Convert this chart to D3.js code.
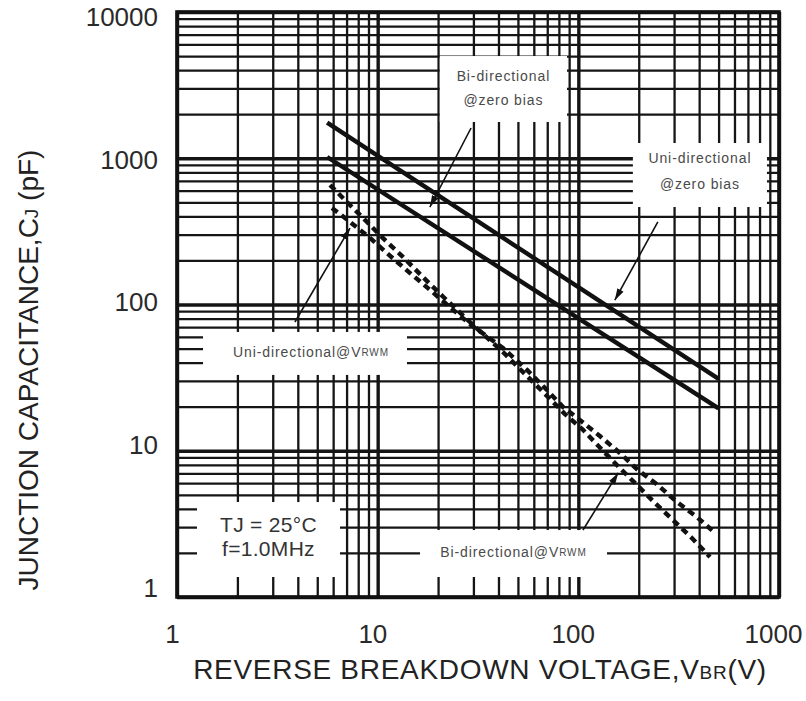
<!DOCTYPE html>
<html><head><meta charset="utf-8">
<script src="https://cdn.jsdelivr.net/npm/d3@7"></script>
<style>body{margin:0;background:#fff} text{font-family:"Liberation Sans",Arial,sans-serif}</style>
</head><body><svg id="c" width="806" height="701"></svg>
<script>
// ---- data ----
const xTicks=[1,10,100,1000];
const xTickLabels=["1","10","100","1000"];
const yTicks=[1,10,100,1000,10000];
const yTickLabels=["1","10","100","1000","10000"];

const uniZeroV=[5.6,500];
const uniZeroC=[1750,31];
const biZeroV=[5.6,500];
const biZeroC=[1020,19.5];

const biVrwmV=[5.79,7.11,8.85,10.6,13.4,16.8,21.2,28.8,42.1,55.5,69.8,85.8,105.5,133,161,196,241,296,368,453];
const biVrwmC=[656,494,367,285,211,154,113,75.9,47.3,32.4,23.7,17.8,13.9,9.96,7.62,5.83,4.39,3.36,2.53,1.88];
const uniVrwmV=[5.92,7.28,9.16,11.1,14.5,18.2,22.9,28.8,42.1,55.5,69.8,83.9,102,128,161,198,249,310,390,480];
const uniVrwmC=[457,367,285,225,164,126,96.1,73.6,50.4,35.7,26.0,19.9,16.2,12.6,9.66,7.38,5.83,4.46,3.52,2.74];

// annotations (data coordinates)
const noteBoxes=[
  {v:[20.4,87.8], c:[5000,1770]},
  {v:[187,871], c:[1271,464]},
  {v:[1.348,14.0], c:[64.9,33]},
  {v:[1.258,6.49], c:[4.46,1.37]},
  {v:[16.25,139], c:[2.87,1.37]}
];
const arrowFromV=[29.2,249,3.87,105.5];
const arrowFromC=[1610,367,75.9,2.87];
const arrowToV=[18.2,152,7.28,158];
const arrowToC=[464,107,333,7.05];

// ---- drawing ----
const W=806,H=701;
const svg=d3.select("#c");
svg.append("rect").attr("width",W).attr("height",H).attr("fill","#fff");
const x=d3.scaleLog().domain([1,1000]).range([177,779]);
const y=d3.scaleLog().domain([1,10000]).range([597,12]);
const xl=d3.scaleLog().domain([1,1000]).range([172,773]);
const yl=d3.scaleLog().domain([1,10000]).range([588,17]);

const gx=[],gy=[];
for(let k=0;k<3;k++)for(let m=1;m<10;m++)gx.push(m*Math.pow(10,k));
gx.push(1000);
for(let k=0;k<4;k++)for(let m=1;m<10;m++)gy.push(m*Math.pow(10,k));
gy.push(10000);
const isDec=v=>Math.abs(Math.log10(v)-Math.round(Math.log10(v)))<1e-9;

const gridX=svg.append("g").attr("transform","translate(0,597)")
  .call(d3.axisBottom(x).tickValues(gx).tickSize(-585).tickFormat(""));
const gridY=svg.append("g").attr("transform","translate(177,0)")
  .call(d3.axisLeft(y).tickValues(gy).tickSize(-602).tickFormat(""));
[gridX,gridY].forEach(g=>{
  g.select(".domain").remove();
  g.selectAll(".tick line").attr("stroke","#151515")
   .attr("stroke-width",d=>isDec(d)?3.4:2.3);
});

// white label boxes
svg.append("g").selectAll("rect").data(noteBoxes).join("rect")
  .attr("x",d=>x(d.v[0])).attr("y",d=>y(d.c[0]))
  .attr("width",d=>x(d.v[1])-x(d.v[0])).attr("height",d=>y(d.c[1])-y(d.c[0]))
  .attr("fill","#fff");

// data lines
const line=d3.line().x(d=>x(d[0])).y(d=>y(d[1]));
const zip=(a,b)=>a.map((v,i)=>[v,b[i]]);
svg.append("path").datum(zip(uniZeroV,uniZeroC)).attr("d",line)
  .attr("fill","none").attr("stroke","#111").attr("stroke-width",4.4);
svg.append("path").datum(zip(biZeroV,biZeroC)).attr("d",line)
  .attr("fill","none").attr("stroke","#111").attr("stroke-width",4.4);
svg.append("path").datum(zip(biVrwmV,biVrwmC)).attr("d",line)
  .attr("fill","none").attr("stroke","#111").attr("stroke-width",4.4)
  .attr("stroke-dasharray","7,5");
svg.append("path").datum(zip(uniVrwmV,uniVrwmC)).attr("d",line)
  .attr("fill","none").attr("stroke","#111").attr("stroke-width",4.4)
  .attr("stroke-dasharray","7,5");

// arrows
svg.append("defs").append("marker").attr("id","ah")
  .attr("viewBox","0 0 10 6").attr("refX",10).attr("refY",3)
  .attr("markerWidth",12).attr("markerHeight",7).attr("markerUnits","userSpaceOnUse")
  .attr("orient","auto")
  .append("path").attr("d","M0,0L10,3L0,6Z").attr("fill","#111");
svg.append("g").selectAll("line").data(arrowFromV).join("line")
  .attr("x1",(d,i)=>x(arrowFromV[i])).attr("y1",(d,i)=>y(arrowFromC[i]))
  .attr("x2",(d,i)=>x(arrowToV[i])).attr("y2",(d,i)=>y(arrowToC[i]))
  .attr("stroke","#111").attr("stroke-width",1.6).attr("marker-end","url(#ah)");

// frame
svg.append("rect").attr("x",177).attr("y",12).attr("width",602).attr("height",585)
  .attr("fill","none").attr("stroke","#111").attr("stroke-width",3.6);

// tick labels
const axX=svg.append("g").attr("transform","translate(0,622)")
  .call(d3.axisBottom(xl).tickValues(xTicks).tickSize(0).tickFormat((d,i)=>xTickLabels[i]));
const axY=svg.append("g").attr("transform","translate(158,0)")
  .call(d3.axisLeft(yl).tickValues(yTicks).tickSize(0).tickFormat((d,i)=>yTickLabels[i]));
[axX,axY].forEach(g=>{
  g.select(".domain").remove();
  g.selectAll("text").attr("font-family","Liberation Sans, Arial, sans-serif")
   .attr("font-size",26).attr("fill","#2a2a2a");
});
axY.selectAll("text").attr("x",0).attr("dx",0);

// axis titles
const xt=svg.append("text").attr("x",480).attr("y",679).attr("text-anchor","middle")
  .attr("font-size",28).attr("letter-spacing",0.7).attr("fill","#222");
xt.append("tspan").text("REVERSE BREAKDOWN VOLTAGE,V");
xt.append("tspan").attr("font-size",19).text("BR");
xt.append("tspan").text("(V)");

const yt=svg.append("text").attr("transform","translate(38,370) rotate(-90)")
  .attr("text-anchor","middle").attr("font-size",28).attr("fill","#222");
yt.append("tspan").text("JUNCTION CAPACITANCE,C");
yt.append("tspan").attr("font-size",19).text("J");
yt.append("tspan").text(" (pF)");

// annotation texts
function cx(b){return (x(b.v[0])+x(b.v[1]))/2;}
function cy(b){return (y(b.c[0])+y(b.c[1]))/2;}
const small={"font-size":14,"fill":"#4a4a4a","letter-spacing":0.9};
function addText(px,py,parts,attrs){
  const t=svg.append("text").attr("x",px).attr("y",py).attr("text-anchor","middle")
   .attr("dominant-baseline","middle");
  Object.entries(attrs).forEach(([k,v])=>t.attr(k,v));
  parts.forEach(p=>{const s=t.append("tspan").text(p.t);
    if(p.fs)s.attr("font-size",p.fs);});
  return t;
}
let b=noteBoxes[0];
addText(cx(b),cy(b)-12,[{t:"Bi-directional"}],small);
addText(cx(b),cy(b)+12,[{t:"@zero bias"}],small);
b=noteBoxes[1];
addText(cx(b),cy(b)-16,[{t:"Uni-directional"}],small);
addText(cx(b),cy(b)+10,[{t:"@zero bias"}],small);
b=noteBoxes[2];
addText(cx(b)+6,cy(b),[{t:"Uni-directional@V"},{t:"RWM",fs:10}],small);
b=noteBoxes[4];
addText(cx(b),cy(b)-1,[{t:"Bi-directional@V"},{t:"RWM",fs:10}],small);
b=noteBoxes[3];
const big={"font-size":21,"fill":"#333","letter-spacing":0.3};
addText(cx(b),cy(b)-14,[{t:"TJ = 25°C"}],big);
addText(cx(b),cy(b)+10,[{t:"f=1.0MHz"}],big);
</script></body></html>
